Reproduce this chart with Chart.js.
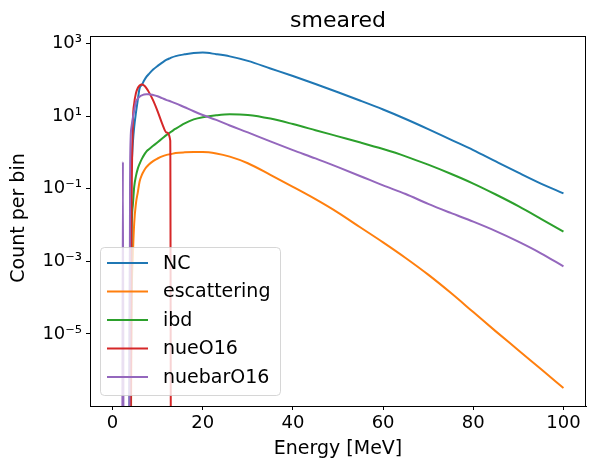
<!DOCTYPE html>
<html>
<head>
<meta charset="utf-8">
<title>smeared</title>
<script src="https://cdn.jsdelivr.net/npm/chart.js@4.4.1/dist/chart.umd.min.js"></script>
<style>
    html, body { margin: 0; padding: 0; background: #fff; }
</style>
</head>
<body>
<canvas id="smearedChart" width="596" height="469"></canvas>
<script>
// energy bins (MeV), shared by every channel
const energy = [0, 2.1, 2.3, 2.5, 3.6, 3.9, 4.2, 4.5, 4.8, 5.2, 5.6, 6, 6.5, 7, 7.5, 8, 9, 10, 11, 12, 12.8, 13,
    14, 16, 18, 20, 23, 26, 30, 35, 40, 45, 50, 55, 60, 65, 70, 75, 80, 85, 90, 95, 100];

// count per bin for each channel (0 = empty bin)
const countNC = [0, 0, 0, 0, 0, 0.03, 0.4, 1.8, 5, 12.6, 28, 58, 72, 95, 120, 141, 190, 240, 295, 355, 395, 405,
    447, 500, 545, 560, 505, 440, 330, 204, 126, 76, 45, 26.3, 15.1, 8.3, 4.37, 2.24, 1.15, 0.56, 0.275, 0.138, 0.074];
const countEscattering = [0, 0, 0, 0, 0, 0, 3e-5, 1.3e-3, 0.011, 0.04, 0.079, 0.158, 0.24, 0.316, 0.39, 0.457, 0.575, 0.676, 0.776, 0.85, 0.89, 0.9,
    0.955, 1.0, 1.02, 1.02, 0.93, 0.76, 0.50, 0.24, 0.112, 0.0513, 0.0219, 0.0085, 0.00331, 0.00123, 4.27e-4, 1.35e-4, 3.98e-5, 1.17e-5, 3.55e-6, 1.07e-6, 3.24e-7];
const countIbd = [0, 0, 0, 0, 0, 0, 0.00316, 0.035, 0.112, 0.224, 0.355, 0.48, 0.66, 0.85, 1.05, 1.2, 1.51, 1.9, 2.4, 3.02, 3.55, 3.69,
    4.47, 6.3, 8.1, 9.3, 10.5, 11.2, 10.7, 8.5, 6.0, 4.07, 2.75, 1.86, 1.23, 0.776, 0.457, 0.257, 0.138, 0.069, 0.033, 0.0148, 0.0065];
const countNueO16 = [0, 0, 0, 0, 0, 0, 0.01, 6.3, 22, 43, 59, 69, 74, 69, 59, 47, 27, 13.5, 6.2, 3.5, 2.1, 0,
    0, 0, 0, 0, 0, 0, 0, 0, 0, 0, 0, 0, 0, 0, 0, 0, 0, 0, 0, 0, 0];
const countNuebarO16 = [0, 0, 0.55, 0, 0, 0.5, 5, 8.9, 14, 25, 30, 34, 37, 39, 40, 40, 38, 35, 31, 27.5, 25.5, 25,
    22.4, 17.4, 13.5, 10.7, 7.8, 5.5, 3.55, 2.0, 1.15, 0.68, 0.39, 0.22, 0.123, 0.071, 0.038, 0.0214, 0.0123, 0.00676, 0.00347, 0.00166, 0.00072];

const seriesNames = ['NC', 'escattering', 'ibd', 'nueO16', 'nuebarO16'];
const seriesCounts = [countNC, countEscattering, countIbd, countNueO16, countNuebarO16];
const seriesColors = ['#1f77b4', '#ff7f0e', '#2ca02c', '#d62728', '#9467bd'];

// axis ticks
const xTicks = [0, 20, 40, 60, 80, 100];
const yTickExps = [3, 1, -1, -3, -5];

const FONT = '"DejaVu Sans", sans-serif';
const superDigits = { '-': '\u207B', '0': '\u2070', '1': '\u00B9', '2': '\u00B2', '3': '\u00B3', '4': '\u2074', '5': '\u2075', '6': '\u2076', '7': '\u2077', '8': '\u2078', '9': '\u2079' };

function powerLabel(value) {
    const exp = String(Math.round(Math.log10(value)));
    return '10' + exp.split('').map(c => superDigits[c]).join('');
}

// empty bins go far below the axis like matplotlib does on a log scale
function toPoints(counts) {
    return energy.map((e, i) => ({ x: e, y: counts[i] > 0 ? counts[i] : 1e-12 }));
}

const datasets = seriesNames.map((name, i) => ({
    label: name,
    data: toPoints(seriesCounts[i]),
    borderColor: seriesColors[i],
    backgroundColor: seriesColors[i],
    borderWidth: 2,
    pointRadius: 0,
    cubicInterpolationMode: 'monotone',
    fill: false,
    clip: 0,
    order: seriesNames.length - i
}));

// title, axis labels, frame and the legend box inside the plot
const decorations = {
    id: 'decorations',
    afterDraw(chart) {
        const ctx = chart.ctx;
        const area = chart.chartArea;
        ctx.save();

        // frame
        ctx.strokeStyle = '#000';
        ctx.lineWidth = 1;
        ctx.strokeRect(area.left + 0.5, area.top + 0.5, area.right - area.left - 1, area.bottom - area.top);

        ctx.fillStyle = '#000';
        ctx.textAlign = 'center';
        ctx.textBaseline = 'alphabetic';
        ctx.font = '22px ' + FONT;
        ctx.fillText('smeared', (area.left + area.right) / 2, 27);

        ctx.font = '19px ' + FONT;
        ctx.fillText('Energy [MeV]', (area.left + area.right) / 2, 454);

        ctx.save();
        ctx.translate(24, 218);
        ctx.rotate(-Math.PI / 2);
        ctx.fillText('Count per bin', 0, 0);
        ctx.restore();

        // legend
        const box = { x: 100.5, y: 247.5, w: 180, h: 148, r: 4 };
        ctx.beginPath();
        ctx.roundRect(box.x, box.y, box.w, box.h, box.r);
        ctx.fillStyle = 'rgba(255,255,255,0.8)';
        ctx.fill();
        ctx.strokeStyle = 'rgba(204,204,204,0.8)';
        ctx.stroke();

        ctx.textAlign = 'left';
        ctx.textBaseline = 'middle';
        ctx.font = '19px ' + FONT;
        seriesNames.forEach((name, i) => {
            const y = 263 + i * 28.5;
            ctx.strokeStyle = seriesColors[i];
            ctx.lineWidth = 2;
            ctx.beginPath();
            ctx.moveTo(107, y);
            ctx.lineTo(148, y);
            ctx.stroke();
            ctx.fillStyle = '#000';
            ctx.fillText(name, 163, y + 1);
        });
        ctx.restore();
    }
};

const ctx = document.getElementById('smearedChart').getContext('2d');
const smearedChart = new Chart(ctx, {
    type: 'line',
    data: { datasets: datasets },
    options: {
        responsive: false,
        animation: false,
        devicePixelRatio: 1,
        layout: { padding: { top: 36, right: 10, bottom: 0, left: 0 } },
        plugins: {
            legend: { display: false },
            title: { display: false },
            tooltip: { enabled: false }
        },
        scales: {
            x: {
                type: 'linear',
                min: -5,
                max: 105,
                afterBuildTicks: scale => { scale.ticks = xTicks.map(v => ({ value: v })); },
                afterFit: scale => { scale.height = 63; },
                grid: { display: true, drawOnChartArea: false, drawTicks: true, tickLength: 4, color: '#000' },
                border: { display: true, color: '#000', width: 1 },
                ticks: { color: '#000', font: { family: FONT, size: 18 }, padding: 3, maxRotation: 0 }
            },
            y: {
                type: 'logarithmic',
                min: 1.03e-7,
                max: 1.6e3,
                afterBuildTicks: scale => { scale.ticks = yTickExps.map(e => ({ value: Math.pow(10, e) })); },
                afterFit: scale => { scale.width = 90; },
                grid: { display: true, drawOnChartArea: false, drawTicks: true, tickLength: 4, color: '#000' },
                border: { display: true, color: '#000', width: 1 },
                ticks: {
                    color: '#000',
                    font: { family: FONT, size: 18 },
                    padding: 4,
                    callback: value => powerLabel(value)
                }
            }
        }
    },
    plugins: [decorations]
});
</script>
</body>
</html>
